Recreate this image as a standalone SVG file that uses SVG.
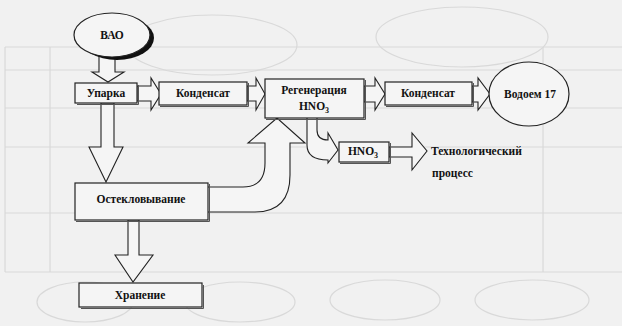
<svg xmlns="http://www.w3.org/2000/svg" width="622" height="326" viewBox="0 0 622 326">
<defs>
<style>
.bg{fill:none;stroke:#d9d9d9;stroke-width:1.2}
.box{fill:#f5f5f5;stroke:#222;stroke-width:1.2}
.shadow{fill:none;stroke:#555;stroke-width:1}
.arr{fill:#f5f5f5;stroke:#222;stroke-width:1.1;stroke-linejoin:miter}
.t{font-family:"Liberation Serif","Times New Roman",serif;font-weight:bold;font-size:11.5px;fill:#111;text-anchor:middle}
.tl{font-family:"Liberation Serif","Times New Roman",serif;font-weight:bold;font-size:11.5px;fill:#111}
</style>
</defs>
<rect width="622" height="326" fill="#f1f1f1"/>
<g id="bleed-through" class="bg">
<path d="M5,47H622M5,70H622M5,108H622M5,147H622M5,213H622M5,272H622M5,47V272M50,47V272M543,47V272"/>
<ellipse cx="212" cy="45" rx="85" ry="30"/>
<ellipse cx="462" cy="37" rx="86" ry="30"/>
<ellipse cx="85" cy="302" rx="48" ry="20"/>
<ellipse cx="240" cy="302" rx="55" ry="20"/>
<ellipse cx="385" cy="300" rx="55" ry="20"/>
<ellipse cx="532" cy="300" rx="57" ry="20"/>
</g>
<g id="connectors">
<polygon class="arr" points="99,56 99,72 92,72 108,82 124,72 115,72 115,56"/>
<polygon class="arr" points="137,86 151,86 151,78 161,94 151,110 151,101 137,101"/>
<polygon class="arr" points="247,86 256,86 256,78 265,94 256,110 256,101 247,101"/>
<polygon class="arr" points="364,86 375,86 375,78 385,94 375,110 375,102 364,102"/>
<polygon class="arr" points="472,86 478,86 478,78 490,94 478,110 478,102 472,102"/>
<polygon class="arr" points="101,103 101,147 89,147 106,182 123,147 114,147 114,103"/>
<polygon class="arr" points="128,220 128,255 115,255 133,282 153,255 139,255 139,220"/>
<polygon class="arr" points="389,147 412,147 412,133 427,151 412,170 412,157 389,157"/>
<path class="arr" d="M208,187 L243,187 Q265,187 265,163 L265,143 L248,143 L277,118 L305,143 L290,143 L290,175 Q290,212 255,212 L208,212"/>
<path class="arr" d="M307,118 L307,145 Q307,160 328,160 L328,163 L338,150 L328,133 L328,140 Q317,140 317,130 L317,118"/>
</g>
<g id="node-vao">
<ellipse cx="117" cy="38" rx="37" ry="22" fill="#111"/>
<ellipse cx="112" cy="35" rx="38" ry="22" fill="#f5f5f5" stroke="#222" stroke-width="1.2"/>
<text class="t" x="112" y="39">ВАО</text>
</g>
<g id="node-uparka">
<rect class="box" x="75" y="83" width="62" height="20" stroke-width="2"/>
<path class="shadow" d="M77,104.5H138.5V85"/>
<text class="t" x="106" y="97">Упарка</text>
</g>
<g id="node-kondensat1">
<rect class="box" x="159" y="82" width="88" height="23"/>
<path class="shadow" d="M160,106.5H248.5V83"/>
<text class="t" x="203" y="97">Конденсат</text>
</g>
<g id="node-regen">
<rect class="box" x="265" y="79" width="99" height="39"/>
<path class="shadow" d="M266,119.5H365.5V80"/>
<text class="t" x="314" y="94">Регенерация</text>
<text class="t" x="314" y="110">HNO<tspan font-size="8" dy="3">3</tspan></text>
</g>
<g id="node-kondensat2">
<rect class="box" x="385" y="82" width="87" height="23"/>
<path class="shadow" d="M386,106.5H473.5V83"/>
<text class="t" x="428" y="97">Конденсат</text>
</g>
<g id="node-vodoem17">
<ellipse cx="529" cy="94" rx="40" ry="32" fill="#f5f5f5" stroke="#222" stroke-width="1.2"/>
<text class="t" x="530" y="98">Водоем 17</text>
</g>
<g id="node-hno3">
<rect class="box" x="339" y="142" width="50" height="20"/>
<path class="shadow" d="M340,163.5H390.5V143"/>
<text class="t" x="363" y="155">HNO<tspan font-size="8" dy="3">3</tspan></text>
</g>
<g id="node-tech">
<text class="tl" x="431" y="155">Технологический</text>
<text class="tl" x="432" y="177">процесс</text>
</g>
<g id="node-osteklo">
<rect class="box" x="75" y="183" width="133" height="37"/>
<path class="shadow" d="M76,221.5H209.5V184"/>
<text class="t" x="141" y="203">Остекловывание</text>
</g>
<g id="node-hranenie">
<rect class="box" x="79" y="283" width="123" height="24" stroke-width="2"/>
<path class="shadow" d="M81,308.5H203.5V285"/>
<text class="t" x="140" y="299">Хранение</text>
</g>
</svg>
